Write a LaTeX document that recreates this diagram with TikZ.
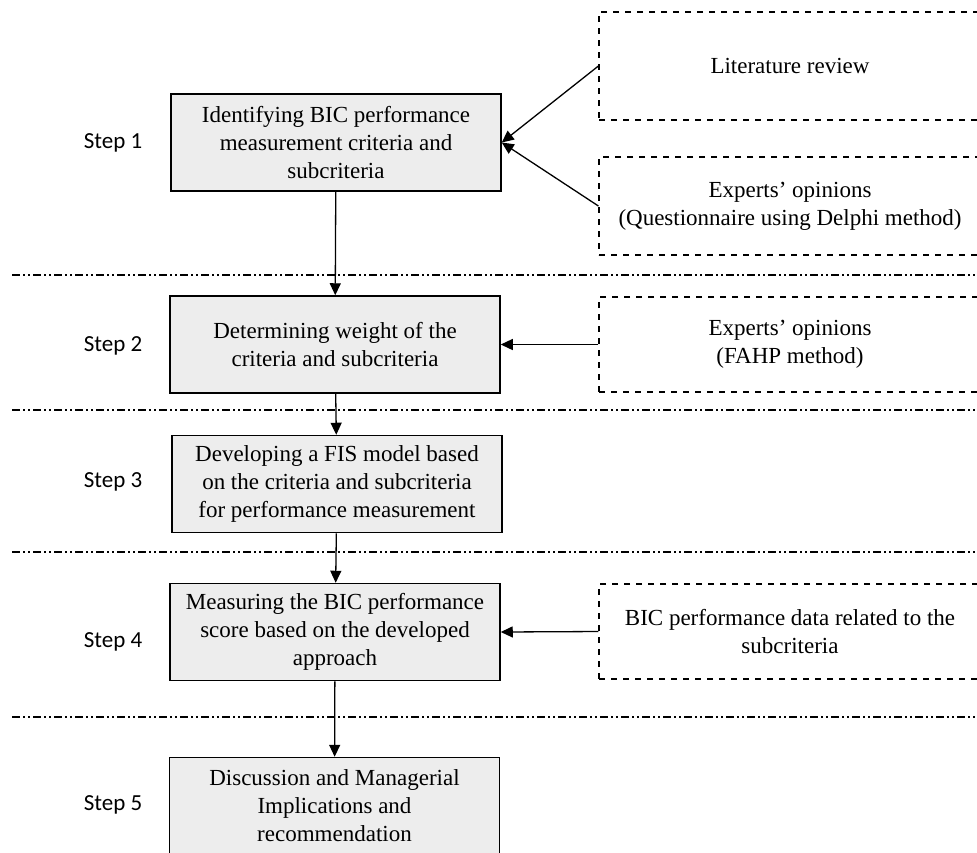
\documentclass[tikz,border=0pt]{standalone}
\usepackage{fontspec}
\setmainfont{Liberation Serif}
\newfontfamily\stepfont{Carlito}
\usetikzlibrary{arrows.meta,positioning}

\begin{document}
\begin{tikzpicture}[x=0.5pt, y=-0.5pt,
etapa/.style={draw, line width=0.75pt, fill=black!7, align=center, minimum width=165pt, minimum height=48.5pt, inner sep=2pt, font=\fontsize{11.5}{14}\selectfont},
fonte/.style={draw, dashed, line width=0.6pt, align=center, minimum width=191pt, inner sep=2pt, font=\fontsize{11.5}{14}\selectfont},
passo/.style={font=\stepfont\fontsize{11.5}{14}\selectfont},
divisa/.style={line width=0.75pt, dash pattern=on 4pt off 1.5pt on 1pt off 1.5pt on 1pt off 1.5pt},
seta/.style={-{Triangle[length=6pt,width=5.5pt]}, line width=0.65pt}
]
\useasboundingbox (0,0) rectangle (977,852);

% separadores entre etapas
\foreach \yy in {275,410,552,717}
  \draw[divisa] (12,\yy) -- (977,\yy);

\node[etapa] (e1) at (336,142.5) {Identifying BIC performance\\measurement criteria and\\subcriteria};
\node[etapa] (e2) at (335,344.5) {Determining weight of the\\criteria and subcriteria};
\node[etapa] (e3) at (337,484) {Developing a FIS model based\\on the criteria and subcriteria\\for performance measurement};
\node[etapa] (e4) at (335,632) {Measuring the BIC performance\\score based on the developed\\approach};
\node[etapa] (e5) at (334.5,806) {Discussion and Managerial\\Implications and\\recommendation};

\node[passo] (p1) at (113,143) {Step 1};
\node[passo] (p2) at (113,346) {Step 2};
\node[passo] (p3) at (113,482) {Step 3};
\node[passo] (p4) at (113,642) {Step 4};
\node[passo] (p5) at (113,805) {Step 5};

\node[fonte, minimum height=54pt] (lit) at (790,66) {Literature review};
\node[fonte, minimum height=49pt] (esp1) at (790,206) {Experts' opinions\\(Questionnaire using Delphi method)};
\node[fonte, minimum height=47.5pt] (esp2) at (790,344.5) {Experts' opinions\\(FAHP method)};
\node[fonte, minimum height=47.5pt] (dados) at (790,631.5) {BIC performance data related to the\\subcriteria};

\draw[seta] (e1) -- (e2);
\draw[seta] (e2) -- (e3);
\draw[seta] (e3) -- (e4);
\draw[seta] (e4) -- (e5);

\draw[seta] (lit.west) -- (e1.east);
\draw[seta] (esp1.west) -- (e1.east);
\draw[seta] (esp2.west) -- (e2.east);
\draw[seta] (dados.west) -- (e4.east);
\end{tikzpicture}
\end{document}
